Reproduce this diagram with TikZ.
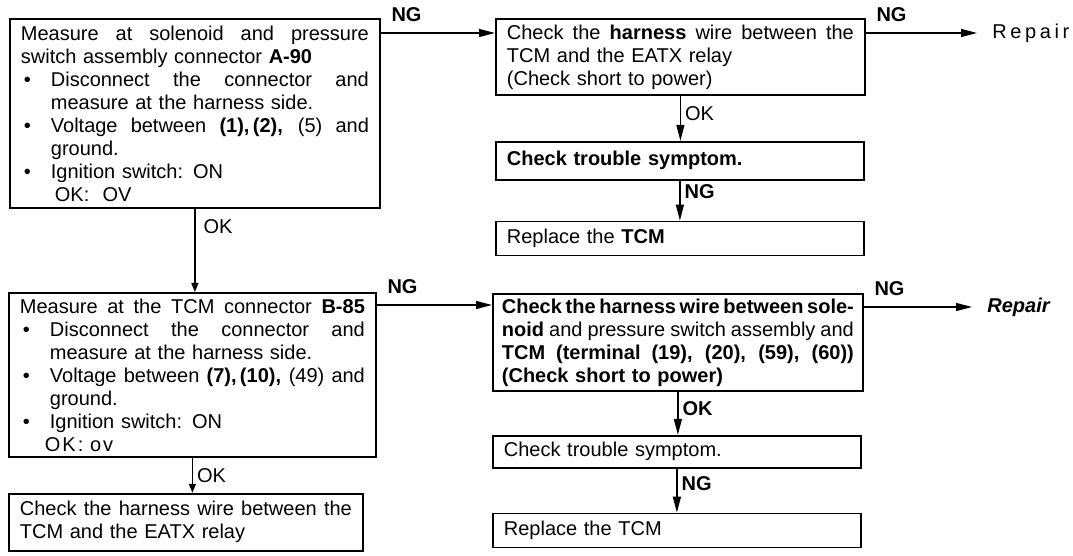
\documentclass[tikz,border=0pt]{standalone}
\usepackage{fontspec}
\setmainfont{Liberation Sans}
\usetikzlibrary{positioning, arrows.meta}

\newlength{\bulind}
\setlength{\bulind}{15pt}
\newcommand{\jline}[1]{\makebox[\hsize][s]{\spaceskip=0pt\xspaceskip=0pt\relax #1}}
\newcommand{\bul}{\makebox[\bulind][l]{\hspace{1.5pt}\textbullet}}
\newcommand{\bline}[1]{\bul\makebox[\dimexpr\hsize-\bulind\relax][s]{\spaceskip=0pt\xspaceskip=0pt\relax #1}}

\begin{document}
\begin{tikzpicture}[x=0.5pt, y=-0.5pt, font=\fontsize{10}{11.5}\selectfont,
    box/.style={draw, line width=0.9pt, inner xsep=5.5pt, inner ysep=2pt, align=left},
    arr/.style={-{Triangle[length=8pt, width=4pt]}, line width=0.7pt},
    okarr/.style={-{Triangle[length=4.5pt, width=3.5pt]}, line width=0.7pt},
    lab/.style={inner sep=1pt},
    nglab/.style={font=\bfseries, anchor=south west, inner sep=1pt, xshift=4pt, yshift=4.5pt}]
    \useasboundingbox (0,0) rectangle (1073,556);

    \node[box, anchor=north west, text width=174pt, minimum height=94.5pt] (a90) at (9,18) {%
      \jline{Measure at solenoid and pressure}\\
      switch assembly connector \textbf{A-90}\\
      \bline{Disconnect the connector and}\\
      \hspace*{\bulind}measure at the harness side.\\
      \bline{Voltage between \textbf{(1),\,(2),} (5) and}\\
      \hspace*{\bulind}ground.\\
      \bul Ignition switch: ON\\
      \hspace*{17pt}OK:\ \ OV};
    \node[box, anchor=north west, text width=172.5pt, minimum height=82pt] (tcm85) at (8,292) {%
      \jline{Measure at the TCM connector \textbf{B-85}}\\
      \bline{Disconnect the connector and}\\
      \hspace*{\bulind}measure at the harness side.\\
      \bline{Voltage between \textbf{(7),\,(10),} (49) and}\\
      \hspace*{\bulind}ground.\\
      \bul Ignition switch: ON\\
      \hspace*{12.5pt}{\addfontfeature{LetterSpace=10}OK:\ ov}};
    \node[box, below=17.5pt of tcm85.south west, anchor=north west, text width=166pt,
          minimum height=28.5pt] (harnrel) {%
      \jline{Check the harness wire between the}\\
      TCM and the EATX relay};

    \node[box, anchor=north west, text width=173.5pt, minimum height=38pt] (harn1) at (495,18) {%
      \jline{Check the \textbf{harness} wire between the}\\
      TCM and the EATX relay\\
      (Check short to power)};
    \node[box, below=22.5pt of harn1.south west, anchor=north west, text width=173pt,
          minimum height=19pt] (symp1) {\textbf{Check trouble symptom.}};
    \node[box, below=20pt of symp1.south west, anchor=north west, text width=173pt,
          minimum height=17pt] (tcm1) {Replace the \textbf{TCM}};

    \node[box, anchor=north west, inner xsep=4.5pt, text width=176pt, minimum height=48.5pt] (harn2) at (492,293) {%
      \jline{\textbf{Check the harness wire between sole-}}\\
      \jline{\textbf{noid} and pressure switch assembly and}\\
      \jline{\textbf{TCM (terminal (19), (20), (59), (60))}}\\
      \textbf{(Check short to power)}};
    \node[box, below=21.5pt of harn2.south west, anchor=north west, text width=173pt,
          minimum height=16pt] (symp2) {Check trouble symptom.};
    \node[box, below=22pt of symp2.south west, anchor=north west, text width=173pt,
          minimum height=17pt] (tcm2) {Replace the TCM};

    \node[anchor=west, inner xsep=7.5pt] (rep1) at (977,33) {\addfontfeature{LetterSpace=18}Repair};
    \node[anchor=west, inner xsep=7.5pt, font=\bfseries\itshape] (rep2) at (972,307) {Repair};

    \draw[arr] ([yshift=-7.5pt]a90.north east) -- ([yshift=-7.5pt]harn1.north west) node[nglab, pos=0] {NG};
    \draw[arr] ([yshift=-7.5pt]harn1.north east) -- (rep1.west) node[nglab, pos=0] {NG};
    \draw[arr] ([yshift=-6.5pt]tcm85.north east) -- ([yshift=-6.5pt]tcm85.north east -| harn2.west) node[nglab, pos=0] {NG};
    \draw[arr] ([yshift=-7pt]harn2.north east) -- (rep2.west) node[nglab, pos=0] {NG};

    \draw[okarr] (a90.south) -- (a90.south |- tcm85.north) node[pos=0.21, right=3pt, lab] {OK};
    \draw[okarr] (tcm85.south) -- (tcm85.south |- harnrel.north) node[pos=0.5, right=1pt, lab] {OK};
    \draw[arr] (harn1.south) -- (harn1.south |- symp1.north) node[pos=0.4, right=1pt, lab] {OK};
    \draw[arr] (symp1.south) -- (symp1.south |- tcm1.north) node[pos=0.27, right=1pt, lab, font=\bfseries] {NG};
    \draw[arr] (harn2.south) -- (harn2.south |- symp2.north) node[pos=0.4, right=1pt, lab, font=\bfseries] {OK};
    \draw[arr] (symp2.south) -- (symp2.south |- tcm2.north) node[pos=0.34, right=1pt, lab, font=\bfseries] {NG};
\end{tikzpicture}
\end{document}
